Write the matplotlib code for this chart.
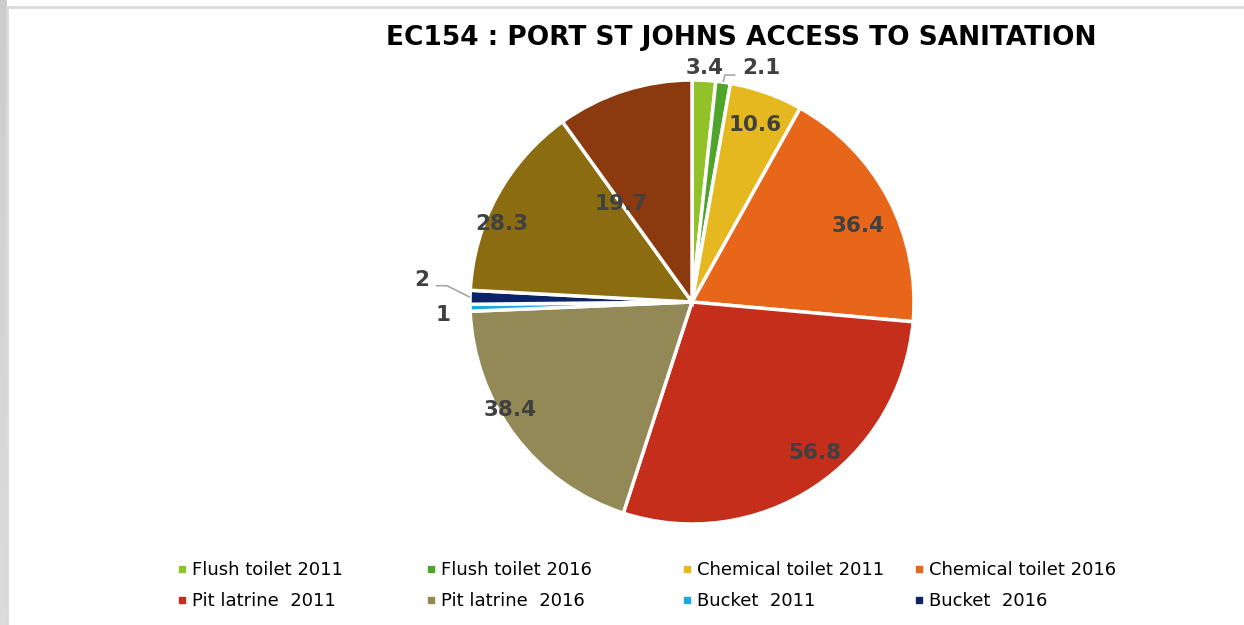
import numpy as np
import matplotlib.pyplot as plt
from matplotlib.lines import Line2D

# sanitation shares (%) in wedge order, clockwise from the top
categories = ["Flush toilet 2011", "Flush toilet 2016", "Chemical toilet 2011",
              "Chemical toilet 2016", "Pit latrine  2011", "Pit latrine  2016",
              "Bucket  2011", "Bucket  2016", "Other 2011", "Other 2016"]
values = [3.4, 2.1, 10.6, 36.4, 56.8, 38.4, 1, 2, 28.3, 19.7]
labels = ["3.4", "2.1", "10.6", "36.4", "56.8", "38.4", "1", "2", "28.3", "19.7"]
in_legend = [True] * 8 + [False] * 2

colors = ["#92C22A", "#4FA52A", "#E6B820", "#E8661A", "#C42E1A",
          "#928956", "#1AA9E0", "#0C2466", "#8B6C10", "#8B3A0F"]

# label placement: radius factor and angle nudge (deg) per wedge
lab_r = [1.056, 1.10, 0.847, 0.822, 0.877, 0.953, 1.124, 1.22, 0.925, 0.545]
lab_da = [0, -8.5, 0, -3.3, 5.8, -6.5, 1.5, -3.5, 6.4, 18]

W, H = 1244, 625
fig = plt.figure(figsize=(W / 100, H / 100), dpi=100)
fig.patch.set_facecolor("white")

# grey strip and thin frame on the left / top
strip = fig.add_axes([0, 0, 7 / W, 1])
strip.axis("off")
strip.imshow(np.linspace(0.80, 0.86, 50).reshape(-1, 1), cmap="gray",
             vmin=0, vmax=1, aspect="auto", extent=[0, 1, 0, 1])
fig.add_artist(Line2D([7.5 / W, 7.5 / W], [0, 1 - 7 / H], color="#d9d9d9", lw=2))
fig.add_artist(Line2D([7.5 / W, 1], [1 - 7 / H, 1 - 7 / H], color="#d9d9d9", lw=2))

cx, cy, R = 692, 302, 222
half = 260
ax = fig.add_axes([(cx - half) / W, (H - cy - half) / H, 2 * half / W, 2 * half / H])
lim = half / R

wedges, _ = ax.pie(values, colors=colors, startangle=90, counterclock=False,
                   radius=1, center=(0, 0), frame=True,
                   wedgeprops=dict(edgecolor="white", linewidth=2.5))
ax.set_xlim(-lim, lim)
ax.set_ylim(-lim, lim)
ax.axis("off")

lab_xy = []
for w, txt, r, da in zip(wedges, labels, lab_r, lab_da):
    mid = np.deg2rad((w.theta1 + w.theta2) / 2 + da)
    x, y = r * np.cos(mid), r * np.sin(mid)
    lab_xy.append((x, y))
    ax.text(x, y, txt, ha="center", va="center", fontsize=15.5,
            fontweight="bold", color="#404040")

# leader lines for the two thin wedges that carry one
def leader(i, dx_elbow, dx_end, dy):
    w = wedges[i]
    mid = np.deg2rad((w.theta1 + w.theta2) / 2)
    lx, ly = lab_xy[i]
    ax.plot([np.cos(mid), lx + dx_elbow, lx + dx_end],
            [np.sin(mid), ly + dy, ly + dy],
            color="#a6a6a6", lw=1.2, solid_capstyle="butt")

leader(1, -0.165, -0.118, -0.032)
leader(7, 0.112, 0.062, -0.027)

fig.text(741 / W, 1 - 38 / H, "EC154 : PORT ST JOHNS ACCESS TO SANITATION",
         ha="center", va="center", fontsize=19, fontweight="bold", color="black")

# legend: one column per legend so the columns sit where wanted
handles = [Line2D([], [], marker="s", linestyle="none", markersize=5,
                  markerfacecolor=c, markeredgecolor=c, label=n)
           for n, c, keep in zip(categories, colors, in_legend) if keep]
col_x = [177, 426, 682, 914]
for k, x0 in enumerate(col_x):
    pair = [handles[k], handles[k + 4]]
    fig.legend(pair, [h.get_label() for h in pair], ncol=1, loc="center left",
               bbox_to_anchor=(x0 / W, 1 - 585.5 / H), frameon=False,
               fontsize=13, handlelength=0.5, handletextpad=0.35,
               labelspacing=0.7, borderpad=0, borderaxespad=0)

fig.savefig("out.png", dpi=100, facecolor="white")
